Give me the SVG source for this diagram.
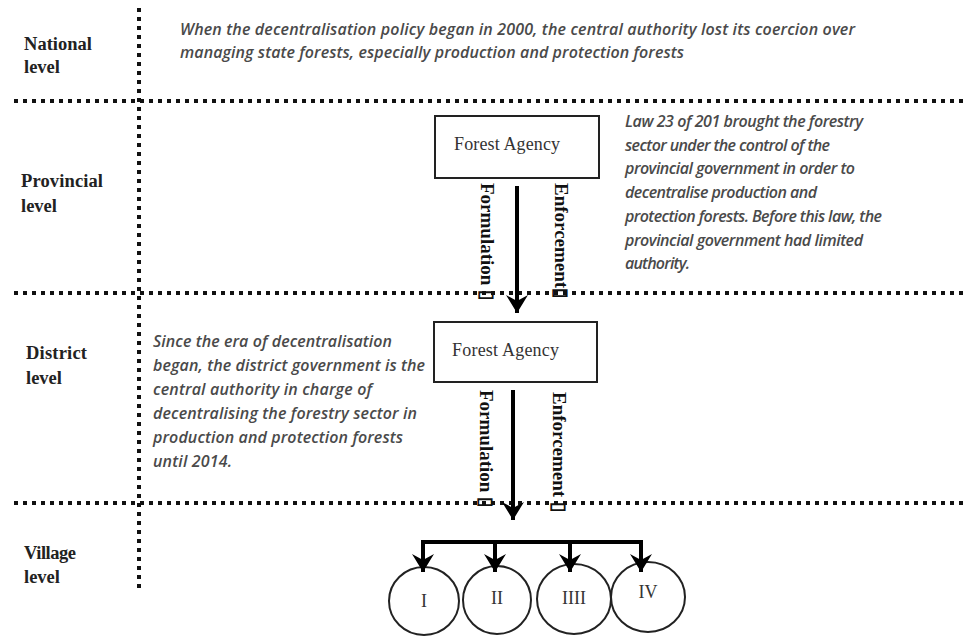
<svg xmlns="http://www.w3.org/2000/svg" width="964" height="636" viewBox="0 0 964 636">
<style>
.dot{stroke:#111;stroke-width:4;stroke-dasharray:4 5;fill:none}
.lvl{font-family:"Liberation Serif",serif;font-weight:bold;font-size:18.5px;fill:#222}
.note{font-family:"Open Sans","Noto Sans",sans-serif;font-style:italic;font-weight:600;font-size:16px;fill:#4a4a4a}
.box{fill:#fff;stroke:#222;stroke-width:2}
.boxt{font-family:"Liberation Serif",serif;font-size:18px;fill:#333}
.vt{font-family:"Liberation Serif",serif;font-weight:bold;font-size:19px;fill:#111}
.shaft{stroke:#000;stroke-width:4;fill:none}
.circ{fill:#fff;stroke:#222;stroke-width:2}
.rn{font-family:"Liberation Serif",serif;font-size:18px;fill:#333;text-anchor:middle}
</style>
<defs>
<marker id="ah" viewBox="0 0 19 22" refX="18" refY="11" markerWidth="19" markerHeight="22" markerUnits="userSpaceOnUse" orient="auto">
<path d="M0,0 L18,11 L0,22 L6,11 Z" fill="#000"/>
</marker>
</defs>
<g id="grid">
<line class="dot" x1="14" y1="101" x2="964" y2="101"/>
<line class="dot" x1="14" y1="293" x2="964" y2="293"/>
<line class="dot" x1="14" y1="503" x2="964" y2="503"/>
<line class="dot" x1="139" y1="8" x2="139" y2="592"/>
</g>
<g id="levels">
<text class="lvl" x="24" y="50" textLength="68">National</text><text class="lvl" x="24" y="73">level</text>
<text class="lvl" x="21" y="187" textLength="82">Provincial</text><text class="lvl" x="21" y="212">level</text>
<text class="lvl" x="26" y="359" textLength="61">District</text><text class="lvl" x="26" y="384">level</text>
<text class="lvl" x="24" y="559" textLength="52">Village</text><text class="lvl" x="24" y="583">level</text>
</g>
<g id="national-note">
<text class="note" x="180" y="35" textLength="675">When the decentralisation policy began in 2000, the central authority lost its coercion over</text>
<text class="note" x="180" y="58" textLength="504">managing state forests, especially production and protection forests</text>
</g>
<g id="provincial-note">
<text class="note" x="625" y="127" textLength="238">Law 23 of 201 brought the forestry</text>
<text class="note" x="625" y="151" textLength="205">sector under the control of the</text>
<text class="note" x="625" y="174" textLength="230">provincial government in order to</text>
<text class="note" x="625" y="198" textLength="192">decentralise production and</text>
<text class="note" x="625" y="222" textLength="257">protection forests. Before this law, the</text>
<text class="note" x="625" y="246" textLength="238">provincial government had limited</text>
<text class="note" x="625" y="269" textLength="65">authority.</text>
</g>
<g id="district-note">
<text class="note" x="153" y="347" textLength="239">Since the era of decentralisation</text>
<text class="note" x="153" y="371" textLength="272">began, the district government is the</text>
<text class="note" x="153" y="395" textLength="219">central authority in charge of</text>
<text class="note" x="153" y="419" textLength="264">decentralising the forestry sector in</text>
<text class="note" x="153" y="443" textLength="250">production and protection forests</text>
<text class="note" x="153" y="467" textLength="79">until 2014.</text>
</g>
<g id="provincial-agency">
<rect class="box" x="435" y="116" width="164" height="62"/>
<text class="boxt" x="454" y="150" textLength="106">Forest Agency</text>
</g>
<g id="district-agency">
<rect class="box" x="434" y="322" width="163" height="60"/>
<text class="boxt" x="452" y="356" textLength="107">Forest Agency</text>
</g>
<g id="village-I"><ellipse class="circ" cx="424" cy="601" rx="35" ry="34"/><text class="rn" x="424" y="607">I</text></g>
<g id="village-II"><ellipse class="circ" cx="497" cy="600" rx="34" ry="34"/><text class="rn" x="497" y="604">II</text></g>
<g id="village-III"><ellipse class="circ" cx="574" cy="599" rx="37" ry="35"/><text class="rn" x="574" y="604">IIII</text></g>
<g id="village-IV"><ellipse class="circ" cx="648" cy="597" rx="37" ry="35"/><text class="rn" x="648" y="598">IV</text></g>
<g id="connectors">
<line class="shaft" x1="517" y1="186" x2="517" y2="313" marker-end="url(#ah)"/>
<line class="shaft" x1="513" y1="390" x2="513" y2="520" marker-end="url(#ah)"/>
<path class="shaft" d="M423,560 V542 H641 V560" />
<line class="shaft" x1="423" y1="550" x2="423" y2="572" marker-end="url(#ah)"/>
<line class="shaft" x1="495" y1="542" x2="495" y2="572" marker-end="url(#ah)"/>
<line class="shaft" x1="570" y1="542" x2="570" y2="572" marker-end="url(#ah)"/>
<line class="shaft" x1="641" y1="550" x2="641" y2="572" marker-end="url(#ah)"/>
<text class="vt" transform="translate(481,183) rotate(90)">Formulation ▯</text>
<text class="vt" transform="translate(555,183) rotate(90)">Enforcement▯</text>
<text class="vt" transform="translate(480,390) rotate(90)">Formulation ▯</text>
<text class="vt" transform="translate(553,392) rotate(90)">Enforcement ▯</text>
</g>
</svg>
